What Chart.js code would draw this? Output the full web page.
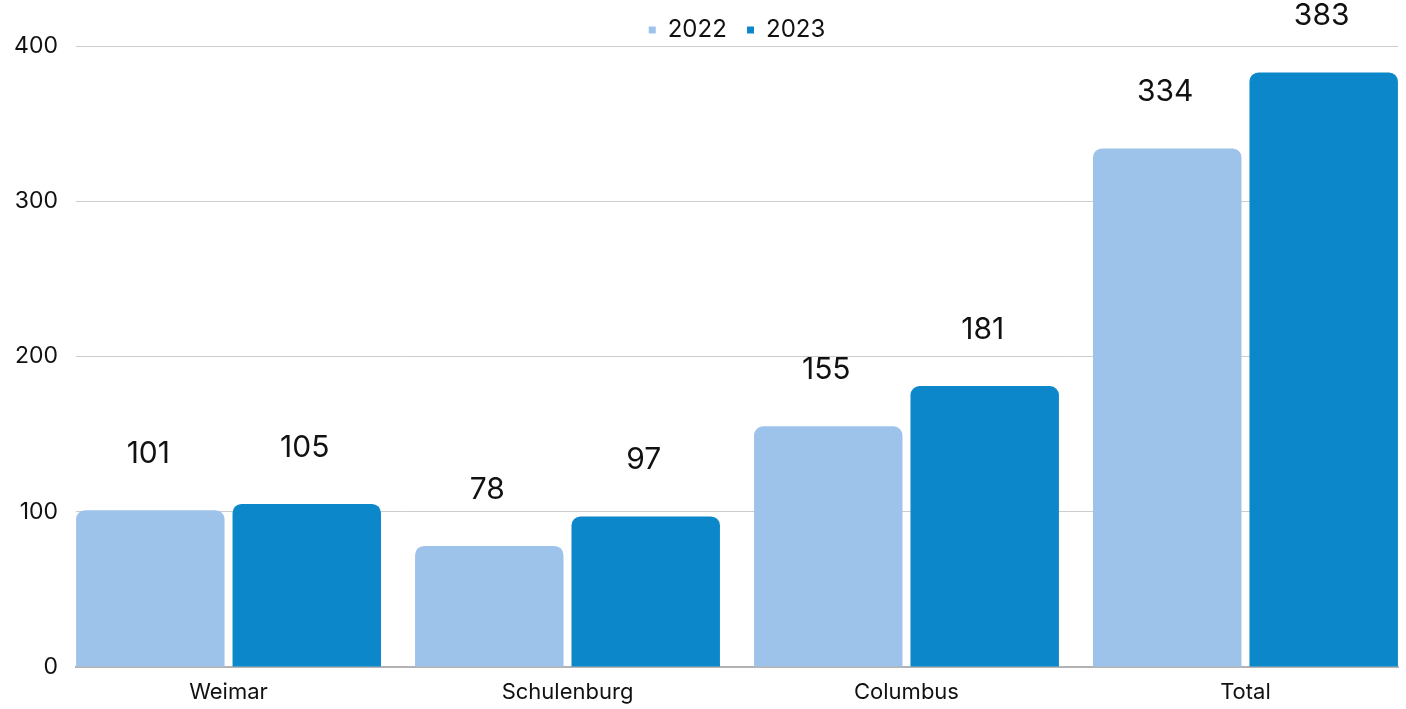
<!DOCTYPE html>
<html>
<head>
<meta charset="utf-8">
<script src="https://cdn.jsdelivr.net/npm/chart.js@4.4.0/dist/chart.umd.min.js"></script>
<style>
  html, body { margin: 0; padding: 0; background: #fff; overflow: hidden; }
  #grafico { display: block; }
</style>
</head>
<body>
<canvas id="grafico" width="1406" height="709"></canvas>
<script>
var lugares = ['Weimar', 'Schulenburg', 'Columbus', 'Total'];
var valores2022 = [101, 78, 155, 334];
var valores2023 = [105, 97, 181, 383];
var ticksY = [0, 100, 200, 300, 400];

var fuente = "Inter, 'Noto Sans', sans-serif";

function puntos(vals) {
  var out = [];
  for (var i in vals) {
    out.push({ x: Number(i), y: vals[i] });
  }
  return out;
}

// valores encima de cada barra
var etiquetas = {
  id: 'etiquetas',
  afterDatasetsDraw: function(chart) {
    var ctx = chart.ctx;
    ctx.save();
    ctx.font = '30px ' + fuente;
    ctx.fillStyle = '#111';
    ctx.textAlign = 'center';
    ctx.textBaseline = 'middle';
    chart.data.datasets.forEach(function(ds, d) {
      var meta = chart.getDatasetMeta(d);
      meta.data.forEach(function(bar, i) {
        ctx.fillText(ds.data[i].y, bar.x - 2, bar.y - 56);
      });
    });
    ctx.restore();
  }
};

// baja un poco la leyenda, mas cerca del grafico
var bajarLeyenda = {
  id: 'bajarLeyenda',
  afterLayout: function(chart) {
    if (chart.legend) {
      chart.legend.top += 6;
      chart.legend.bottom += 6;
    }
  }
};

var chartdata = {
  datasets: [
    {
      label: '2022',
      backgroundColor: '#9DC3EB',
      data: puntos(valores2022),
      borderRadius: { topLeft: 9, topRight: 9 },
      borderSkipped: 'bottom'
    },
    {
      label: '2023',
      backgroundColor: '#0C87C9',
      data: puntos(valores2023),
      borderRadius: { topLeft: 9, topRight: 9 },
      borderSkipped: 'bottom'
    }
  ]
};

var ctx = document.getElementById('grafico');
new Chart(ctx, {
  type: 'bar',
  data: chartdata,
  plugins: [etiquetas, bajarLeyenda],
  options: {
    responsive: false,
    animation: false,
    categoryPercentage: 0.923,
    barPercentage: 0.949,
    layout: { padding: { left: 0, right: 8, top: 12, bottom: 0 } },
    plugins: {
      legend: {
        position: 'top',
        fullSize: false,
        labels: {
          boxWidth: 7,
          boxHeight: 7,
          padding: 0,
          color: '#111',
          font: { family: fuente, size: 24 },
          generateLabels: function(chart) {
            var items = Chart.defaults.plugins.legend.labels.generateLabels(chart);
            items.forEach(function(it, i) {
              if (i < items.length - 1) it.text = it.text + '   ';
            });
            return items;
          }
        }
      },
      tooltip: { enabled: false }
    },
    scales: {
      x: {
        type: 'linear',
        min: -0.45,
        max: 3.45,
        offset: false,
        grid: { display: false, drawTicks: false, offset: false },
        border: { color: '#b3b3b3', width: 2 },
        afterBuildTicks: function(scale) {
          scale.ticks = lugares.map(function(n, i) { return { value: i }; });
        },
        afterFit: function(scale) { scale.height = 42; },
        ticks: {
          padding: 12,
          color: '#111',
          font: { family: fuente, size: 22 },
          maxRotation: 0,
          callback: function(v) { return lugares[v]; }
        }
      },
      y: {
        min: 0,
        max: 400,
        afterBuildTicks: function(scale) {
          scale.ticks = ticksY.map(function(v) { return { value: v }; });
        },
        afterFit: function(scale) { scale.width = 76; },
        grid: { color: '#cccccc', lineWidth: 1, drawTicks: false },
        border: { display: false },
        ticks: {
          padding: 18,
          color: '#111',
          font: { family: fuente, size: 23 }
        }
      }
    }
  }
});
</script>
</body>
</html>
